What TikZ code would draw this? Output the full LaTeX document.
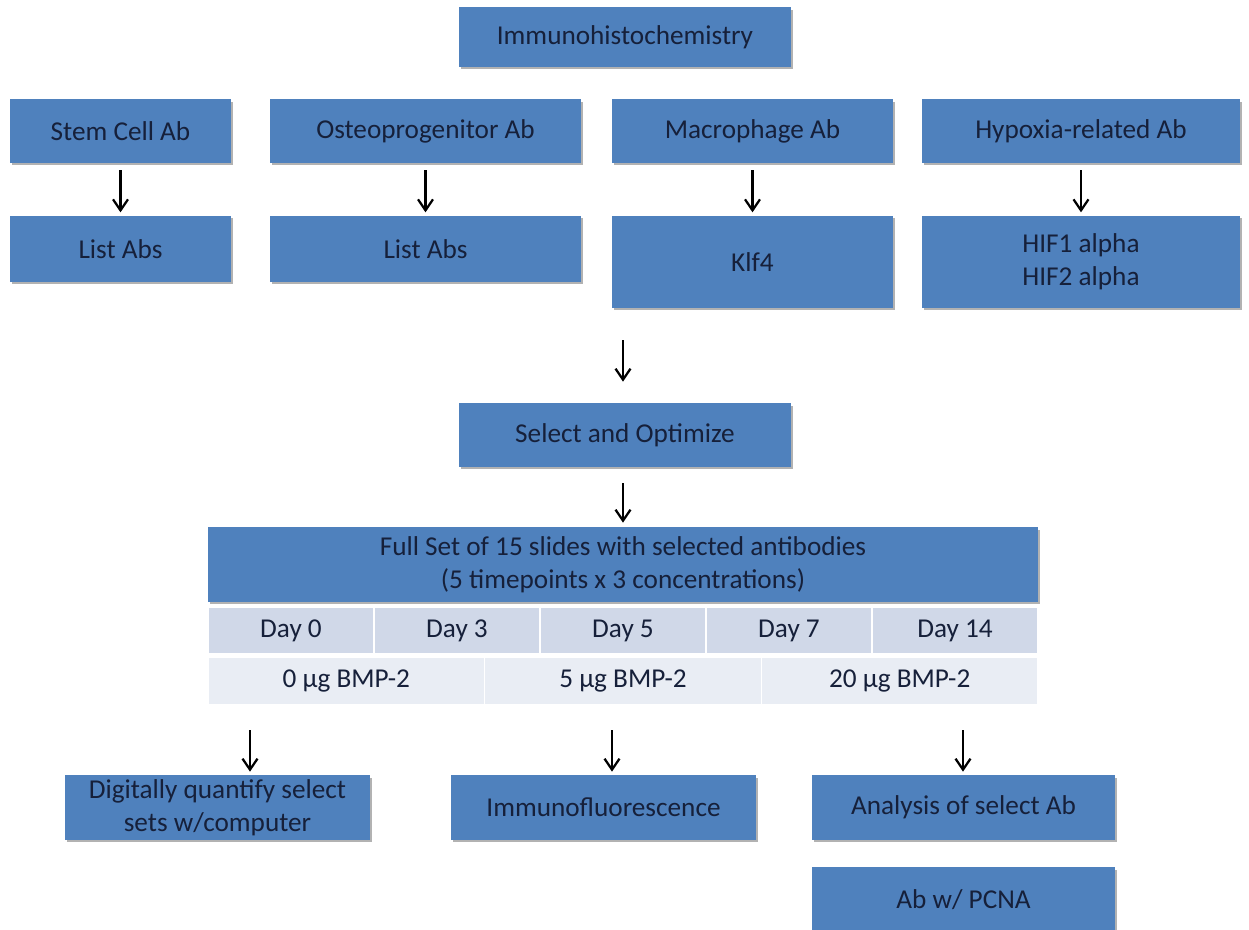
\documentclass[tikz,border=0pt]{standalone}
\usepackage{fontspec}
\setmainfont{Carlito}
\usepackage{xcolor}
\usetikzlibrary{positioning,arrows.meta,calc,shadows}
\definecolor{ihcblue}{RGB}{79,129,189}
\definecolor{ihctext}{RGB}{22,32,58}
\definecolor{ihcday}{RGB}{208,216,232}
\definecolor{ihcdose}{RGB}{233,237,244}
\tikzset{
  box/.style={fill=ihcblue, text=ihctext, align=center, inner sep=0pt, minimum height=1.28cm,
    font=\fontsize{15.5}{18.5}\selectfont,
    drop shadow={shadow xshift=0.04cm, shadow yshift=-0.05cm, fill=black, opacity=0.3}},
  tallbox/.style={box, minimum height=1.84cm},
  daycell/.style={fill=ihcday, text=ihctext, draw=white, line width=0.03cm, minimum width=3.32cm,
    minimum height=0.94cm, inner sep=0pt, font=\fontsize{15.5}{18.5}\selectfont},
  dosecell/.style={daycell, fill=ihcdose, minimum width=5.533cm, minimum height=0.96cm},
  arrow/.style={-{Straight Barb[length=2.2mm,width=3mm]}, line width=0.045cm, black}
}

\begin{document}
\begin{tikzpicture}[x=0.02cm, y=-0.02cm, node distance=1.04cm]
        \useasboundingbox (0,0) rectangle (1249,930);
        % top and antibody groups
        \node[box, minimum width=6.64cm, minimum height=1.2cm] (ihc) at (625,37) {Immunohistochemistry};
        \node[box, minimum width=4.42cm] (stem) at (120.5,131) {Stem Cell Ab};
        \node[box, minimum width=6.22cm] (osteo) at (425.5,131) {Osteoprogenitor Ab};
        \node[box, minimum width=5.62cm] (macro) at (752.5,131) {Macrophage Ab};
        \node[box, minimum width=6.36cm] (hyp) at (1081,131) {Hypoxia-related Ab};
        \node[box, minimum width=4.42cm, minimum height=1.32cm, below=of stem] (stemlist) {List Abs};
        \node[box, minimum width=6.22cm, minimum height=1.32cm, below=of osteo] (osteolist) {List Abs};
        \node[tallbox, minimum width=5.62cm, below=of macro] (klf) {Klf4};
        \node[tallbox, minimum width=6.36cm, below=of hyp] (hif) {HIF1 alpha\\HIF2 alpha};
        \foreach \a/\b in {stem/stemlist,osteo/osteolist,macro/klf,hyp/hif}{\draw[arrow, shorten <=0.14cm, shorten >=0.06cm] (\a) -- (\b);}
        % selection
        \node[box, minimum width=6.64cm] (sel) at (625,435) {Select and Optimize};
        \coordinate (gapA) at (623,340);
        \draw[arrow, shorten >=0.42cm] (gapA) -- (gapA |- sel.north);
        % slide set table
        \node[box, drop shadow={opacity=0}, minimum width=16.6cm, minimum height=1.5cm] (full) at (623,564.5)
          {Full Set of 15 slides with selected antibodies\\(5 timepoints x 3 concentrations)};
        \draw[arrow, shorten <=0.32cm, shorten >=0.08cm] (sel.south -| gapA) -- (full.north -| gapA);
        \foreach \d [count=\i from 0] in {0,3,5,7,14}{\node[daycell] (day\i) at (291+166*\i,630.5) {Day \d};}
        \foreach \c [count=\i from 0] in {0,5,20}{\node[dosecell] (dose\i) at (346.3+276.7*\i,681) {\c{} µg BMP-2};}
        % outputs
        \node[box, minimum width=6.1cm, minimum height=1.3cm] (dig) at (217.5,807.5) {Digitally quantify select\\sets w/computer};
        \node[box, minimum width=6.1cm, minimum height=1.3cm] (immf) at (603.5,807.5) {Immunofluorescence};
        \node[box, minimum width=6.06cm, minimum height=1.3cm] (anal) at (963.5,807.5) {Analysis of select Ab};
        \node[box, minimum width=6.06cm, minimum height=1.3cm] (pcna) at (963.5,899.5) {Ab w/ PCNA};
        \foreach \x/\t in {250/dig,612/immf,963/anal}{\coordinate (o\t) at (\x,730); \draw[arrow, shorten >=0.06cm] (o\t) -- (o\t |- \t.north);}
      \end{tikzpicture}
\end{document}
